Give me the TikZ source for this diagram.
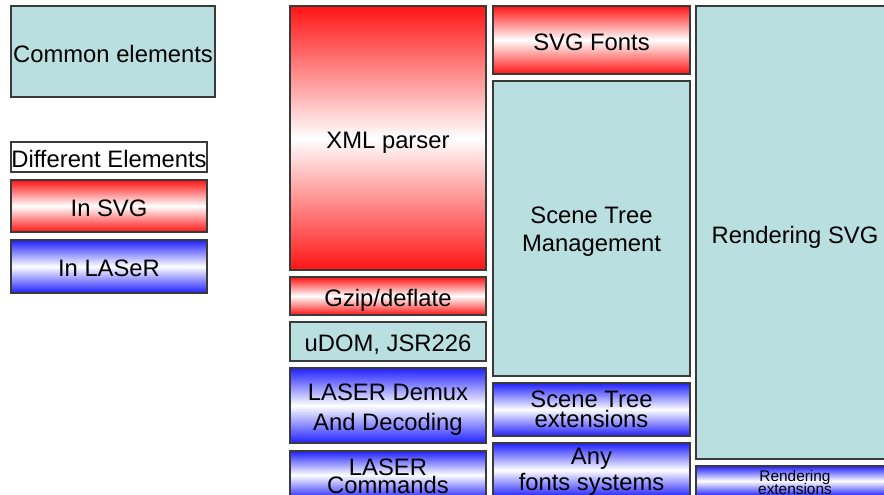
\documentclass[tikz,border=0pt]{standalone}
\usepackage{fontspec}
\setmainfont{Liberation Sans}
\AtBeginDocument{\setlength{\lineskiplimit}{-100pt}}
\definecolor{teal1}{HTML}{B9DFE1}
\definecolor{red1}{HTML}{FF1414}
\definecolor{blue1}{HTML}{2020FF}
\definecolor{edge1}{HTML}{3A3A3A}
\tikzset{
  box/.style={draw=edge1, line width=1.3pt, inner sep=0pt, rectangle},
  common/.style={box, fill=teal1},
  svgbox/.style={box, top color=red1, bottom color=red1, middle color=white},
  laserbox/.style={box, top color=blue1, bottom color=blue1, middle color=white},
  plain/.style={box, fill=white},
  txt/.style={inner sep=0pt, align=center, font={\fontsize{23.8}{#1}\selectfont}},
  txt/.default=28,
  onetxt/.style={txt, text depth=0pt, yshift=-2pt}
}
\begin{document}
\begin{tikzpicture}[x=1pt,y=-1pt]
\useasboundingbox[fill=white] (0,0) rectangle (884,495);
\begin{scope}
\clip (0,0) rectangle (884,495);
% legend
\node[common, minimum width=204pt, minimum height=91pt] (common) at (113,51.5) {};
\node[onetxt] (commont) at (common.center) {Common elements};
\node[plain, minimum width=196pt, minimum height=30pt] (diff) at (109,157) {};
\node[onetxt] (difft) at (diff.center) {Different Elements};
\node[svgbox, minimum width=196pt, minimum height=52pt] (insvg) at (109,206) {};
\node[onetxt] (insvgt) at (insvg.center) {In SVG};
\node[laserbox, minimum width=196pt, minimum height=53pt] (inlaser) at (109,266.5) {};
\node[onetxt] (inlasert) at (inlaser.center) {In LASeR};
% column 1
\node[svgbox, minimum width=196pt, minimum height=264pt] (xml) at (388,138) {};
\node[onetxt] (xmlt) at (xml.center) {XML parser};
\node[svgbox, minimum width=196pt, minimum height=38pt] (gzip) at (388,296) {};
\node[onetxt] (gzipt) at (gzip.center) {Gzip/deflate};
\node[common, minimum width=196pt, minimum height=39pt] (udom) at (388,341.5) {};
\node[onetxt] (udomt) at (udom.center) {uDOM, JSR226};
\node[laserbox, minimum width=196pt, minimum height=75pt] (demux) at (388,405.5) {};
\node[txt=30, yshift=-4pt] (demuxt) at (demux.center) {LASER Demux\\And Decoding};
\node[laserbox, minimum width=196pt, minimum height=48pt] (cmds) at (388,475) {};
\node[txt=18, yshift=-1pt] (cmdst) at (cmds.center) {LASER\\Commands};
% column 2
\node[svgbox, minimum width=197pt, minimum height=68pt] (svgfonts) at (591.5,40) {};
\node[onetxt] (svgfontst) at (svgfonts.center) {SVG Fonts};
\node[common, minimum width=197pt, minimum height=295pt] (stm) at (591.5,228.5) {};
\node[txt=28, yshift=-3pt] (stmt) at (stm.center) {Scene Tree\\Management};
\node[laserbox, minimum width=197pt, minimum height=53pt] (ste) at (591.5,409.5) {};
\node[txt=20] (stet) at (ste.center) {Scene Tree\\extensions};
\node[laserbox, minimum width=197pt, minimum height=54pt] (anyf) at (591.5,470) {};
\node[txt=26, yshift=-2pt] (anyft) at (anyf.center) {Any\\fonts systems};
% column 3
\node[common, minimum width=198pt, minimum height=453pt] (rsvg) at (795,232.5) {};
\node[onetxt] (rsvgt) at (rsvg.center) {Rendering SVG};
\node[laserbox, minimum width=198pt, minimum height=30pt] (rext) at (795,481) {};
\node[inner sep=0pt, align=center, font={\fontsize{15.4}{13}\selectfont}, yshift=-1pt] (rextt) at (rext.center) {Rendering\\extensions};
\end{scope}
\end{tikzpicture}
\end{document}
